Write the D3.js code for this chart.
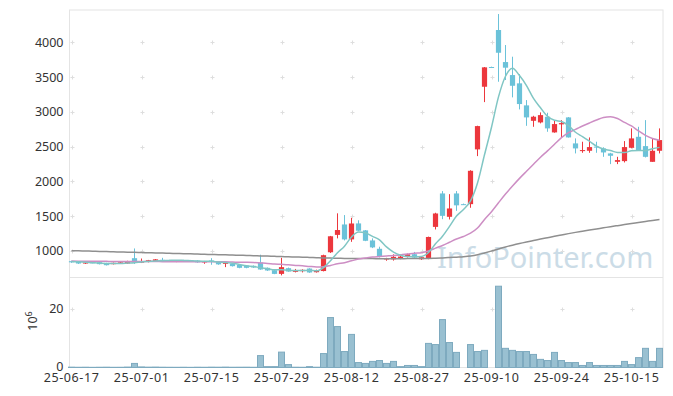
<!DOCTYPE html>
<html>
<head>
<meta charset="utf-8">
<script src="https://cdn.jsdelivr.net/npm/d3@7"></script>
<style>
body { margin: 0; background: #fff; }
text { font-family: "Noto Sans", sans-serif; fill: #333; }
</style>
</head>
<body>
<div class="container"></div>
<script>
const dates = [
  "25-06-17","25-06-18","25-06-19","25-06-20","25-06-23","25-06-24","25-06-25","25-06-26","25-06-27","25-06-30",
  "25-07-01","25-07-02","25-07-03","25-07-04","25-07-07","25-07-08","25-07-09","25-07-10","25-07-11","25-07-14",
  "25-07-15","25-07-16","25-07-17","25-07-18","25-07-21","25-07-22","25-07-23","25-07-24","25-07-25","25-07-28",
  "25-07-29","25-07-30","25-07-31","25-08-01","25-08-04","25-08-05","25-08-06","25-08-07","25-08-08","25-08-11",
  "25-08-12","25-08-13","25-08-14","25-08-18","25-08-19","25-08-20","25-08-21","25-08-22","25-08-25","25-08-26",
  "25-08-27","25-08-28","25-08-29","25-09-01","25-09-02","25-09-03","25-09-04","25-09-05","25-09-08","25-09-09",
  "25-09-10","25-09-11","25-09-12","25-09-15","25-09-16","25-09-17","25-09-18","25-09-19","25-09-22","25-09-23",
  "25-09-24","25-09-25","25-09-26","25-09-29","25-09-30","25-10-01","25-10-02","25-10-10","25-10-13","25-10-14",
  "25-10-15","25-10-16","25-10-17","25-10-20","25-10-21"
];

const open = [
  852,845,820,835,837,828,809,828,818,895,
  830,840,855,872,866,842,866,866,860,833,
  862,842,813,818,799,790,785,833,756,722,
  669,751,698,708,746,693,710,980,1230,1380,
  1165,1395,1295,1150,1030,878,878,890,914,952,
  880,890,1345,1826,1490,1826,1672,1672,2460,3361,
  3645,4177,3716,3529,3410,3093,2871,2848,2929,2704,
  2820,2920,2546,2435,2440,2500,2474,2402,2281,2291,
  2483,2641,2507,2281,2440
];
const high = [
  858,850,842,840,840,830,832,840,858,1035,
  890,870,882,900,872,868,872,870,865,855,
  895,845,830,822,802,795,790,945,760,725,
  900,760,740,735,750,730,945,1215,1540,1515,
  1476,1440,1300,1180,1060,900,950,945,960,985,
  920,1205,1548,1860,1816,1860,1680,2160,2800,3645,
  3650,4407,3961,3793,3543,3169,2943,2992,2987,2871,
  2881,2925,2618,2570,2632,2570,2490,2410,2353,2579,
  2762,2785,2881,2618,2762
];
const low = [
  828,812,812,822,805,790,805,822,815,812,
  825,835,850,858,852,838,848,848,830,814,
  800,800,766,775,750,750,755,728,712,665,
  648,700,690,690,684,688,705,970,1180,1150,
  1130,1285,1140,1040,905,858,860,880,905,895,
  870,880,1308,1456,1452,1576,1660,1620,2363,3140,
  3630,3433,3458,3208,3035,2799,2785,2834,2713,2700,
  2632,2630,2402,2411,2411,2411,2353,2248,2248,2272,
  2475,2440,2344,2281,2402
];
const close = [
  835,818,832,828,809,794,828,835,852,835,
  850,866,878,862,860,862,852,855,835,850,
  852,806,828,780,756,756,762,732,718,669,
  766,703,722,727,689,725,938,1210,1300,1165,
  1394,1290,1145,1050,915,890,914,918,952,904,
  909,1200,1538,1504,1610,1655,1668,2152,2795,3640,
  3640,3850,3635,3375,3112,2920,2930,2953,2762,2824,
  2838,2632,2474,2450,2493,2490,2416,2368,2306,2493,
  2618,2440,2353,2440,2594
];
// volume, millions of shares
const volume = [
  0.12,0.08,0.1,0.06,0.09,0.11,0.07,0.08,0.15,1.4,
  0.2,0.12,0.15,0.1,0.08,0.07,0.09,0.06,0.1,0.08,
  0.12,0.1,0.14,0.09,0.1,0.11,0.08,4.1,0.3,0.3,
  5.3,1.0,0.1,0.08,0.3,0.1,4.8,17.2,14.1,5.5,
  11.4,1.7,1.4,2.1,2.4,1.4,2.1,0.3,0.7,0.7,
  0.3,8.3,7.9,16.5,8.6,5.2,0,7.9,5.5,5.9,
  0,28.0,6.6,5.9,5.5,5.5,4.5,2.8,2.4,5.2,
  2.4,1.7,1.7,0.7,1.7,0.7,0.7,0.7,0.7,2.1,
  1.0,3.4,6.6,2.1,6.6
];
const ma5 = [
  848,842,836,830,824,816,818,819,824,829,
  840,848,856,858,863,866,863,858,853,851,
  849,840,834,823,804,785,776,757,745,727,
  729,718,716,717,721,713,760,858,972,1068,
  1201,1272,1259,1209,1159,1058,983,937,918,916,
  919,977,1101,1211,1352,1501,1595,1718,1976,2382,
  2779,3215,3512,3628,3522,3378,3194,3058,2935,2878,
  2861,2802,2706,2644,2577,2508,2465,2443,2415,2415,
  2440,2445,2442,2469,2489
];
const ma20 = [
  853,852,852,851,850,849,848,848,848,847,
  847,846,846,845,845,844,844,843,843,842,
  843,842,842,839,837,835,832,826,820,811,
  807,799,791,785,776,769,773,791,814,830,
  857,882,897,911,919,926,933,942,954,966,
  973,998,1039,1078,1124,1170,1207,1254,1328,1452,
  1564,1692,1817,1933,2043,2145,2245,2347,2438,2534,
  2630,2702,2748,2796,2840,2882,2919,2930,2905,2848,
  2797,2726,2662,2616,2590
];
const ma120 = [
  1003,1001,998,995,992,990,987,984,981,979,
  976,973,970,968,965,962,959,957,954,951,
  948,945,943,940,937,934,931,928,925,921,
  918,915,912,909,906,902,899,896,894,892,
  891,890,889,889,888,888,888,888,889,889,
  890,892,895,899,904,910,916,926,944,970,
  998,1027,1056,1082,1106,1128,1149,1170,1190,1210,
  1229,1248,1266,1283,1300,1316,1332,1348,1363,1378,
  1393,1408,1423,1438,1452
];
const priceTicks = [1000, 1500, 2000, 2500, 3000, 3500, 4000];
const volumeTicks = [0, 20];
const dateTicks = ["25-06-17","25-07-01","25-07-15","25-07-29","25-08-12","25-08-27","25-09-10","25-09-24","25-10-15"];

const w = 673;
const h = 396;
const padLeft = 69.5, padRight = 663, padTop = 10, panelSplit = 277.5, padBottom = 367.5;

const upColor = "#ec373d";
const downColor = "#6bc2d9";
const frameColor = "#e4e4e4";

const svg = d3.select(".container")
              .append("svg")
              .attr("width", w)
              .attr("height", h);

const xScale = d3.scaleBand().domain(dates).range([68, 663]);
const cx = (d) => xScale(d) + xScale.bandwidth() / 2;
const yScale = d3.scaleLinear().domain([617, 4465]).range([panelSplit, padTop]);
const vScale = d3.scaleLinear().domain([0, 31]).range([padBottom, panelSplit]);

const rows = dates.map((d, i) => ({
  date: d, o: open[i], h: high[i], l: low[i], c: close[i], v: volume[i]
}));

// frame
const frame = svg.append("g").attr("stroke", frameColor).attr("stroke-width", 1).attr("fill", "none");
frame.append("rect").attr("x", padLeft).attr("y", padTop).attr("width", padRight - padLeft).attr("height", padBottom - padTop);
frame.append("line").attr("x1", padLeft).attr("x2", padRight).attr("y1", panelSplit).attr("y2", panelSplit);

// small grid crosses
const crossRows = priceTicks.map(t => yScale(t)).concat([vScale(20)]);
const crosses = [];
dateTicks.forEach(d => crossRows.forEach(y => crosses.push([Math.round(cx(d)) + 0.5, Math.round(y) + 0.5])));
svg.append("g")
   .attr("stroke", "#dedede")
   .selectAll("path")
   .data(crosses)
   .enter()
   .append("path")
   .attr("d", (p) => `M${p[0] - 2},${p[1]}H${p[0] + 2}M${p[0]},${p[1] - 2}V${p[1] + 2}`);

// watermark
svg.append("text")
   .attr("x", 437)
   .attr("y", 268)
   .style("font-size", "29px")
   .style("fill", "#c3d7e3")
   .style("opacity", 0.85)
   .text("InfoPointer.com");

// volume bars
svg.append("g")
   .selectAll("rect")
   .data(rows)
   .enter()
   .append("rect")
   .attr("x", (d) => xScale(d.date) + 0.5)
   .attr("width", xScale.bandwidth() - 1)
   .attr("y", (d) => vScale(d.v))
   .attr("height", (d) => padBottom - vScale(d.v))
   .attr("fill", "#99c0d1")
   .attr("stroke", (d) => d.v > 0 ? "#7eaabf" : "none")
   .attr("stroke-width", 1);

// candles
const candle = svg.append("g")
   .selectAll("g")
   .data(rows)
   .enter()
   .append("g")
   .attr("fill", (d) => d.c >= d.o ? upColor : downColor)
   .attr("stroke", (d) => d.c >= d.o ? upColor : downColor);

candle.append("line")
   .attr("x1", (d) => cx(d.date))
   .attr("x2", (d) => cx(d.date))
   .attr("y1", (d) => yScale(d.h))
   .attr("y2", (d) => yScale(d.l))
   .attr("stroke-width", 1);

candle.append("rect")
   .attr("x", (d) => cx(d.date) - 2.6)
   .attr("width", 5.2)
   .attr("y", (d) => yScale(Math.max(d.o, d.c)))
   .attr("height", (d) => Math.max(1, Math.abs(yScale(d.o) - yScale(d.c))))
   .attr("stroke", "none");

// moving averages
const maLine = d3.line()
                 .x((v, i) => cx(dates[i]))
                 .y((v) => yScale(v))
                 .curve(d3.curveMonotoneX);

[[ma120, "#8f8f8f"], [ma20, "#cd8ec4"], [ma5, "#80c6c4"]].forEach(([s, col]) => {
  svg.append("path")
     .datum(s)
     .attr("d", maLine)
     .attr("fill", "none")
     .attr("stroke", col)
     .attr("stroke-width", 1.5);
});

// axes
const xAxis = d3.axisBottom(xScale).tickValues(dateTicks).tickSize(0).tickPadding(6);
svg.append("g")
   .attr("transform", "translate(0," + padBottom + ")")
   .call(xAxis)
   .call(g => g.select(".domain").remove())
   .selectAll("text")
   .style("font-size", "12.5px")
   .style("letter-spacing", "0.6px");

const yAxis = d3.axisLeft(yScale).tickValues(priceTicks).tickSize(0).tickPadding(6).tickFormat(d3.format("d"));
svg.append("g")
   .attr("transform", "translate(" + padLeft + ",0)")
   .call(yAxis)
   .call(g => g.select(".domain").remove())
   .selectAll("text")
   .style("font-size", "12.5px");

const vAxis = d3.axisLeft(vScale).tickValues(volumeTicks).tickSize(0).tickPadding(6);
svg.append("g")
   .attr("transform", "translate(" + padLeft + ",-1)")
   .call(vAxis)
   .call(g => g.select(".domain").remove())
   .selectAll("text")
   .style("font-size", "12.5px");

const unit = svg.append("text")
   .attr("transform", "translate(37,321) rotate(-90)")
   .attr("text-anchor", "middle")
   .style("font-size", "12.5px");
unit.append("tspan").text("10");
unit.append("tspan").attr("dy", "-5").style("font-size", "9px").text("6");
</script>
</body>
</html>
